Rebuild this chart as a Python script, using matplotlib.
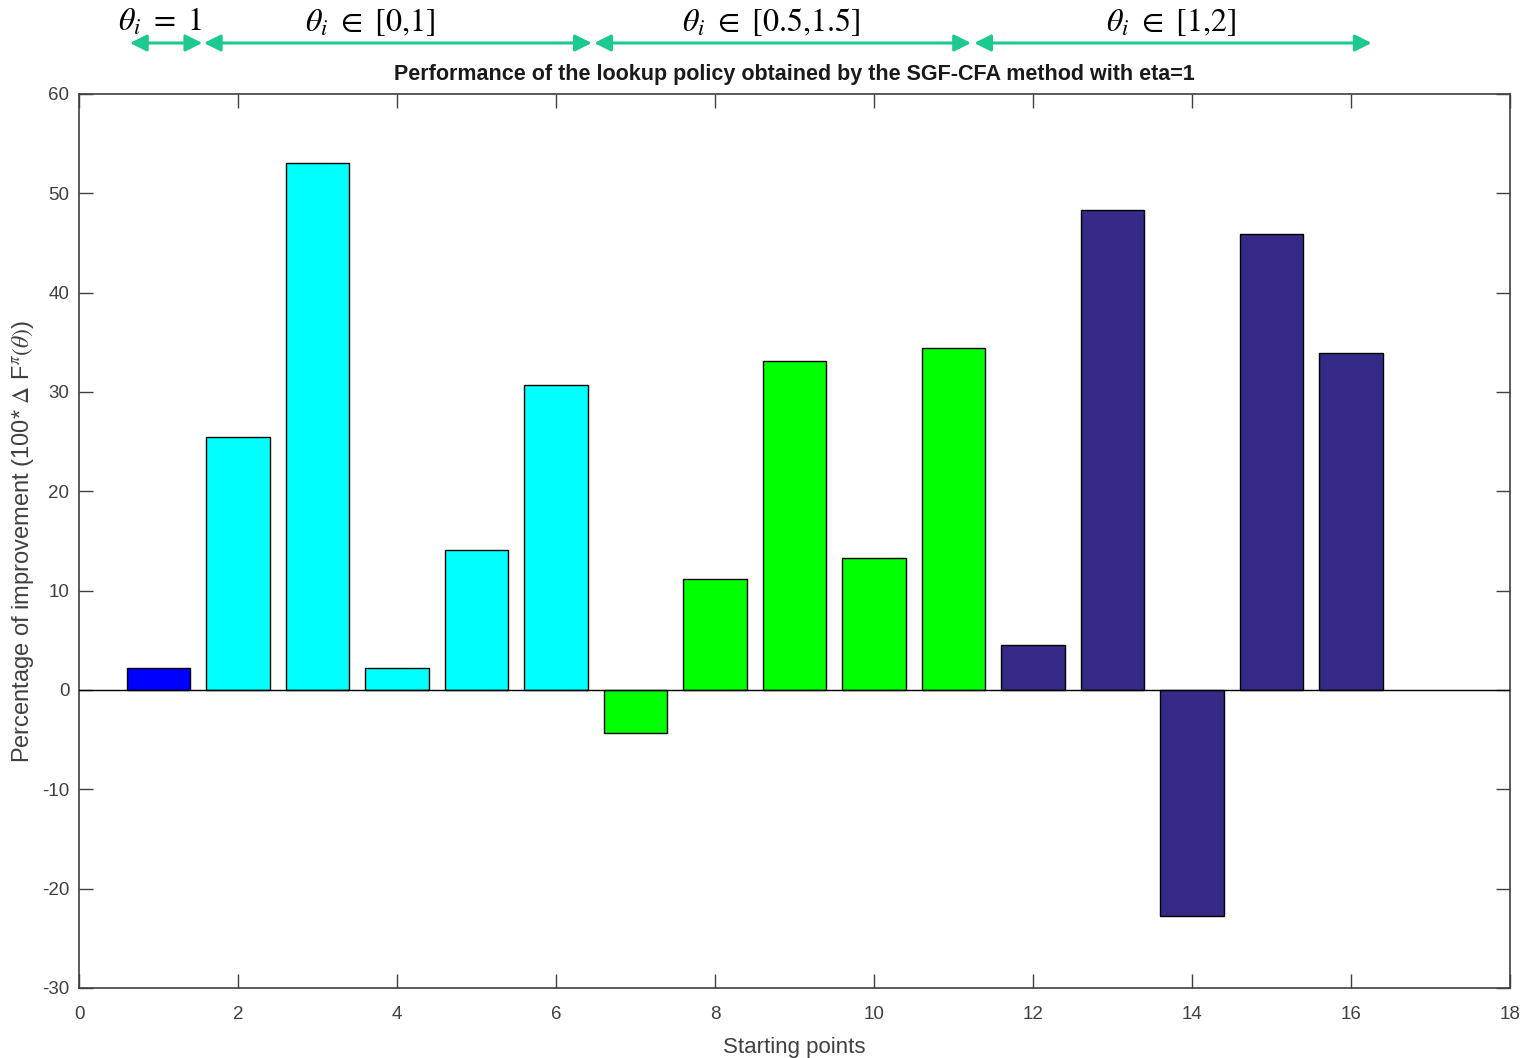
import matplotlib
matplotlib.use("Agg")
import matplotlib.pyplot as plt
import matplotlib.transforms as mtransforms

plt.rcParams['font.family'] = ['Liberation Sans', 'DejaVu Sans']
plt.rcParams['mathtext.fontset'] = 'stix'
plt.rcParams['axes.unicode_minus'] = False

# Data
starting_points = list(range(1, 17))
improvement = [2.2, 25.5, 53.0, 2.2, 14.1, 30.7, -4.3, 11.2,
               33.1, 13.3, 34.4, 4.5, 48.3, -22.8, 45.9, 33.9]
bar_colors = ['#0000ff'] + ['#00ffff'] * 5 + ['#00ff00'] * 5 + ['#352a87'] * 5

group_labels = [r'$\theta_i\ =\ 1$', r'$\theta_i\ \in\ [0{,}1]$',
                r'$\theta_i\ \in\ [0.5{,}1.5]$', r'$\theta_i\ \in\ [1{,}2]$']
group_spans = [(0.64, 1.55), (1.57, 6.45), (6.48, 11.22), (11.26, 16.26)]
group_label_x = [1.02, 3.66, 8.7, 13.73]

fig = plt.figure(figsize=(15.26, 10.58), dpi=100)
ax = fig.add_axes([0.0518, 0.0662, 0.9377, 0.845])

ax.bar(starting_points, improvement, width=0.8, color=bar_colors,
       edgecolor='black', linewidth=1.0, zorder=2)
ax.axhline(0, color='black', linewidth=1.0, zorder=3)

ax.set_xlim(0, 18)
ax.set_ylim(-30, 60)
ax.set_xticks(range(0, 19, 2))
ax.set_yticks(range(-30, 61, 10))
ax.tick_params(direction='in', length=10, width=1, colors='#404040',
               labelcolor='#404040', labelsize=13.5, top=True, right=True)
ax.tick_params(axis='x', pad=13)
ax.tick_params(axis='y', pad=7)
for sp in ax.spines.values():
    sp.set_color('#404040')
    sp.set_linewidth(1.2)

ax.set_xlabel('Starting points', fontsize=16, color='#404040', labelpad=10)
ax.set_ylabel(r'Percentage of improvement (100* $\Delta$ F$^{\pi}(\theta)$)',
              fontsize=17, color='#404040', labelpad=4)
ax.set_title('Performance of the lookup policy obtained by the SGF-CFA method with eta=1',
             fontsize=15.5, fontweight='bold', color='#1a1a1a', pad=10)

# Group brackets above the axes
trans = mtransforms.blended_transform_factory(ax.transData, fig.transFigure)
arrow_y = 1 - 43 / 1058
label_y = 1 - 22 / 1058
arrow_color = '#1cc98e'
for (x0, x1), lx, lab in zip(group_spans, group_label_x, group_labels):
    ax.annotate('', xy=(x1, arrow_y), xytext=(x0, arrow_y),
                xycoords=trans, textcoords=trans,
                arrowprops=dict(arrowstyle='<|-|>', color=arrow_color,
                                lw=2.2, mutation_scale=25,
                                shrinkA=0, shrinkB=0),
                annotation_clip=False)
    fig.text(lx, label_y, lab, transform=trans, ha='center', va='center',
             fontsize=23, color='black')

fig.savefig('out.png', dpi=100)
